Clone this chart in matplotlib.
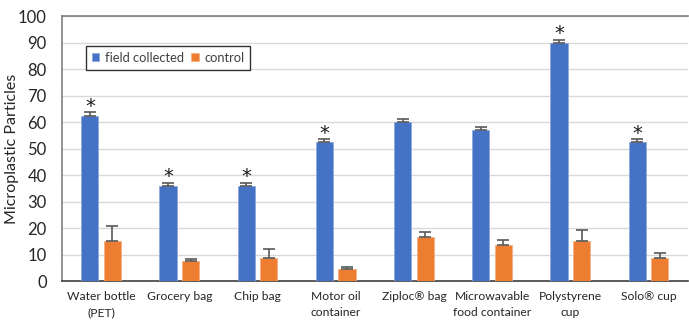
import numpy as np
import matplotlib
matplotlib.use("Agg")
import matplotlib.pyplot as plt

plt.rcParams['font.family'] = ['Lato', 'DejaVu Sans']

# data
categories = ["Water bottle\n(PET)", "Grocery bag", "Chip bag", "Motor oil\ncontainer",
              "Ziploc\u00ae bag", "Microwavable\nfood container", "Polystyrene\ncup", "Solo\u00ae cup"]
field = [62.4, 35.9, 35.9, 52.5, 59.9, 57.0, 90.0, 52.5]
field_err = [1.3, 1.2, 1.2, 1.0, 1.3, 1.2, 1.0, 1.0]
control = [15.0, 7.4, 8.8, 4.5, 16.8, 13.8, 15.0, 8.7]
control_err = [5.8, 0.8, 3.2, 1.0, 1.6, 1.8, 4.2, 2.0]
significant = [True, True, True, True, False, False, True, True]

blue = "#4472C4"
orange = "#ED7D31"
err_color = "#595959"

fig = plt.figure(figsize=(6.89, 3.22), dpi=100)
ax = fig.add_axes([0.090, 0.127, 0.908, 0.823])

x = np.arange(len(categories))
w = 0.22
off = 0.144

ax.bar(x - off, field, w, color=blue, edgecolor="#8FAADC", linewidth=0.6,
       label="field collected", zorder=3)
ax.bar(x + off, control, w, color=orange, edgecolor="#F4B183", linewidth=0.6,
       label="control", zorder=3)

# plus-only error bars
ax.errorbar(x - off, field, yerr=[np.zeros(len(field)), field_err], fmt="none",
            ecolor=err_color, elinewidth=1.2, capsize=4, capthick=1.2, zorder=4)
ax.errorbar(x + off, control, yerr=[np.zeros(len(control)), control_err], fmt="none",
            ecolor=err_color, elinewidth=1.2, capsize=4, capthick=1.2, zorder=4)

for i, s in enumerate(significant):
    if s:
        ax.text(x[i] - off, field[i] + field_err[i] + 0.3, "*", ha="center", va="baseline",
                fontsize=14, color="#1a1a1a", family="DejaVu Sans")

ax.set_xlim(-0.5, len(categories) - 0.5)
ax.set_ylim(0, 100)
ax.set_yticks(range(0, 101, 10))
ax.yaxis.grid(True, color="#D9D9D9", linewidth=1, zorder=0)
ax.set_axisbelow(True)

ax.set_xticks(x)
ax.set_xticklabels(categories, fontsize=8.7, color="#262626", linespacing=1.6)
ax.tick_params(axis="x", length=0, pad=7)
ax.tick_params(axis="y", length=0, labelsize=12, pad=11, colors="#262626")
ax.set_ylabel("Microplastic Particles", fontsize=11.5, color="#262626")
ax.yaxis.set_label_coords(-0.069, 0.5)

ax.spines["right"].set_visible(False)
ax.spines["top"].set_color("#808080")
ax.spines["top"].set_linewidth(1.2)
ax.spines["left"].set_color("#808080")
ax.spines["left"].set_linewidth(1.2)
ax.spines["bottom"].set_color("#404040")
ax.spines["bottom"].set_linewidth(1.2)

leg = ax.legend(loc="upper left", bbox_to_anchor=(0.038, 0.887), ncol=2, fontsize=9.3,
                frameon=True, fancybox=False, handlelength=0.6, handleheight=0.6,
                handletextpad=0.4, columnspacing=0.6, borderpad=0.45, borderaxespad=0)
leg.get_frame().set_edgecolor("black")
leg.get_frame().set_linewidth(1.0)
for t in leg.get_texts():
    t.set_color("#404040")

fig.savefig("out.png", dpi=100)
